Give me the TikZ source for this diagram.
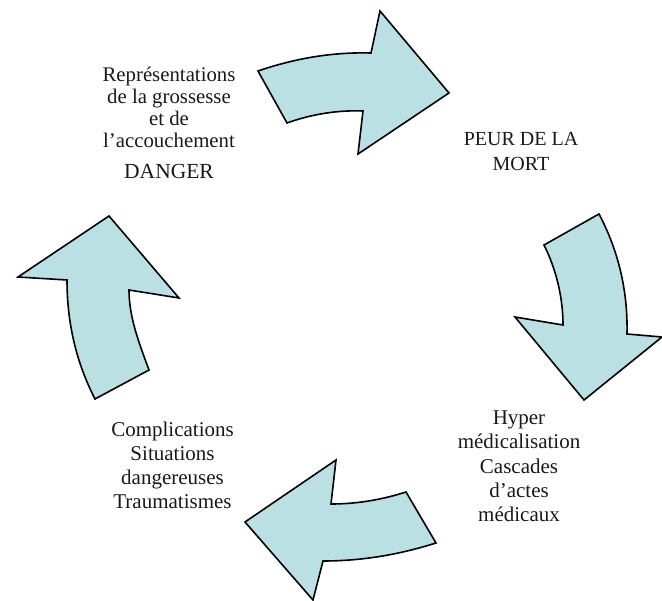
\documentclass[tikz,border=0pt]{standalone}
\usepackage{fontspec}
\setmainfont{Liberation Serif}
\definecolor{arrowfill}{RGB}{187,224,227}
\begin{document}
\begin{tikzpicture}[x=1pt,y=-1pt,
  arrowshape/.style={fill=arrowfill, draw=black, line width=1.6pt, line join=miter},
  lbl/.style={align=center, inner sep=0pt, anchor=north, text=black!90}]
\useasboundingbox (0,0) rectangle (662,601);
% top arrow
\draw[arrowshape] (258,71) .. controls (296,58) and (333,52) .. (371,53) -- (380,11) -- (449,93) -- (358,154) -- (363,111) .. controls (338,110) and (312,114) .. (287,123) -- cycle;
% right arrow
\draw[arrowshape] (599,214) .. controls (618,250) and (628,290) .. (627,334) -- (662,337) -- (584,400) -- (515,317) -- (563,325) .. controls (563,297) and (556,269) .. (544,245) -- cycle;
% bottom arrow
\draw[arrowshape] (406,492) .. controls (381,500) and (356,504) .. (331,504) -- (336,460) -- (245,522) -- (313,600) -- (323,561) .. controls (361,561) and (398,555) .. (436,543) -- cycle;
% left arrow
\draw[arrowshape] (149,370) .. controls (139,343) and (129,317) .. (129,290) -- (179,298) -- (109,216) -- (18,277) -- (67,280) .. controls (67,320) and (75,360) .. (95,399) -- cycle;
% texts
\node[lbl, font=\fontsize{20.8}{22}\selectfont] (repr) at (169,66.5) {Représentations\\de la grossesse\\et de\\l’accouchement\\[9pt]{\fontsize{21.5}{22}\selectfont DANGER}};
\node[lbl, font=\fontsize{20}{25}\selectfont] (peur) at (521,131.7) {PEUR DE LA\\MORT};
\node[lbl, font=\fontsize{21}{24.3}\selectfont] (hyper) at (519,410.5) {Hyper\\médicalisation\\Cascades\\d’actes\\médicaux};
\node[lbl, font=\fontsize{21}{24}\selectfont] (compl) at (172.5,422) {Complications\\Situations\\dangereuses\\Traumatismes};
\end{tikzpicture}
\end{document}
